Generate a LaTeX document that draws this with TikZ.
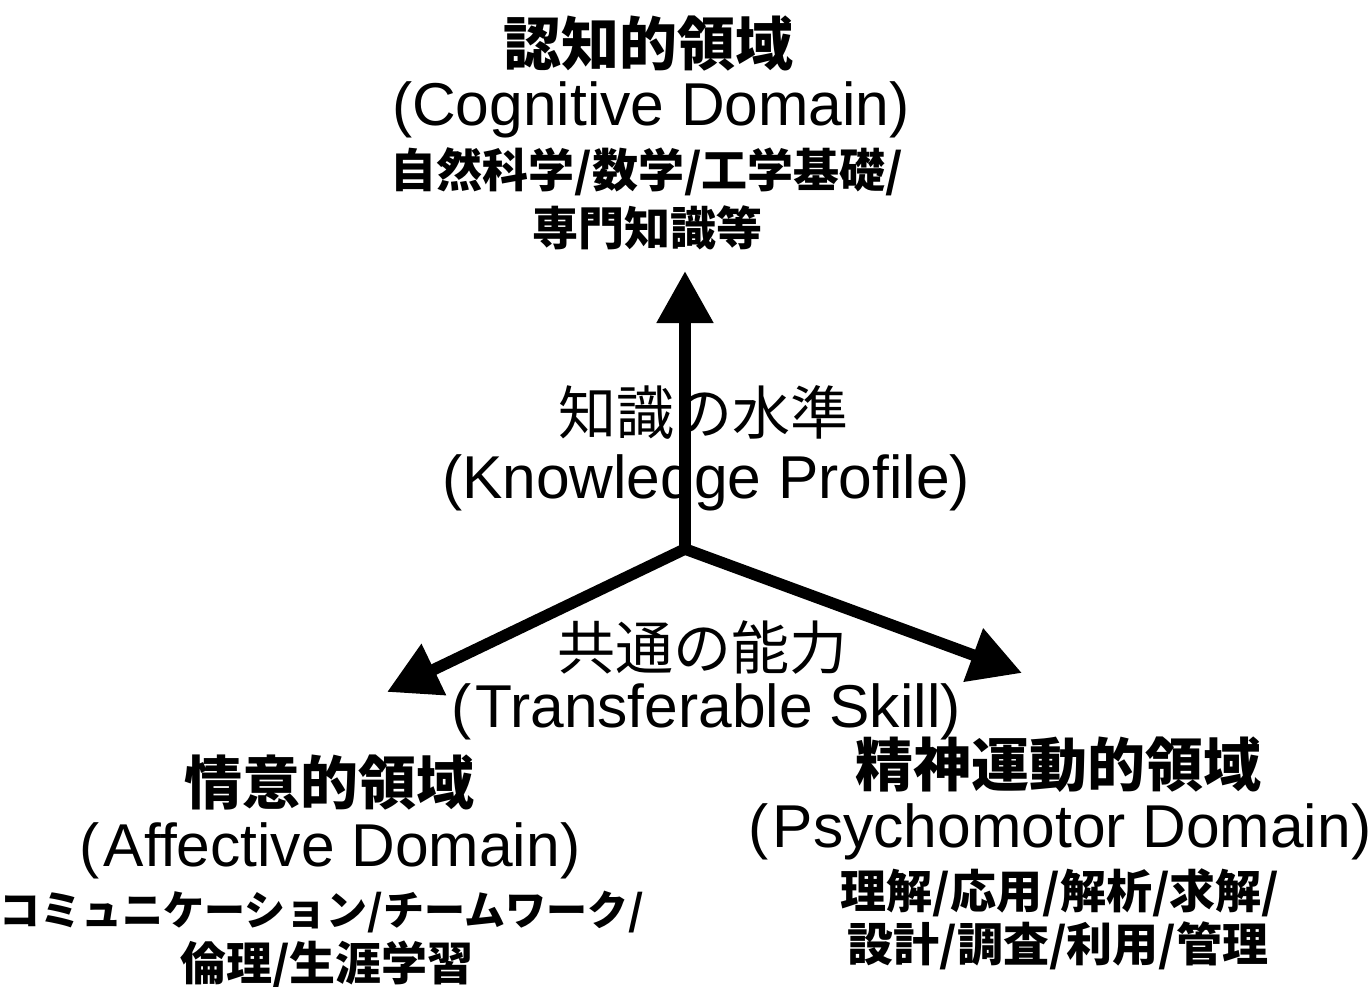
\documentclass[tikz,border=0pt]{standalone}
\usepackage{fontspec}
\setmainfont{Liberation Sans}
\newfontfamily\jp{Noto Sans CJK JP}
\usetikzlibrary{arrows.meta}
\tikzset{
  txt/.style={inner sep=0pt, anchor=center},
  ttl/.style={txt, font=\jp\bfseries\fontsize{58}{60}\selectfont},
  lat/.style={txt, font=\fontsize{60.5}{63}\selectfont},
  sub/.style={txt, font=\jp\bfseries\fontsize{46}{48}\selectfont},
  mid/.style={txt, font=\jp\fontsize{58}{60}\selectfont},
  axis/.style={line width=11.5pt, -{Triangle[length=52pt,width=54pt]}},
}
\begin{document}
\begin{tikzpicture}[x=1pt,y=-1pt]
\useasboundingbox (0,0) rectangle (1371,987);
% axes
\coordinate (o) at (685,549);
\coordinate (tu) at (685,271);
\coordinate (tl) at (387,692);
\coordinate (tr) at (1022,673);
\draw[axis] (o) -- (tu);
\draw[axis] (o) -- (tl);
\draw[axis] (o) -- (tr);
% cognitive
\node[ttl] (c1) at (648,44) {認知的領域};
\node[lat] (c2) at (651,110) {(Cognitive Domain)};
\node[sub] (c3) at (647,172) {自然科学/数学/工学基礎/};
\node[sub] (c4) at (647,228) {専門知識等};
% knowledge profile
\node[mid] (k1) at (703,412) {知識の水準};
\node[lat] (k2) at (706,483) {(Knowledge Profile)};
% transferable
\node[mid] (s1) at (702,648) {共通の能力};
\node[lat] (s2) at (706,712) {(\kern4pt Transferable Skill)};
% affective
\node[ttl] (a1) at (329,783) {情意的領域};
\node[lat] (a2) at (330,851) {(\kern4pt Affective Domain)};
\node[sub, font=\jp\bfseries\fontsize{41}{43}\selectfont] (a3) at (322,912) {コミュニケーション/チームワーク/};
\node[sub] (a4) at (327,965) {倫理/生涯学習};
% psychomotor
\node[ttl] (p1) at (1058,765) {精神運動的領域};
\node[lat] (p2) at (1060,832) {(\kern4pt Psychomotor Domain)};
\node[sub] (p3) at (1060,893) {理解/応用/解析/求解/};
\node[sub] (p4) at (1058,946) {設計/調査/利用/管理};
\end{tikzpicture}
\end{document}
